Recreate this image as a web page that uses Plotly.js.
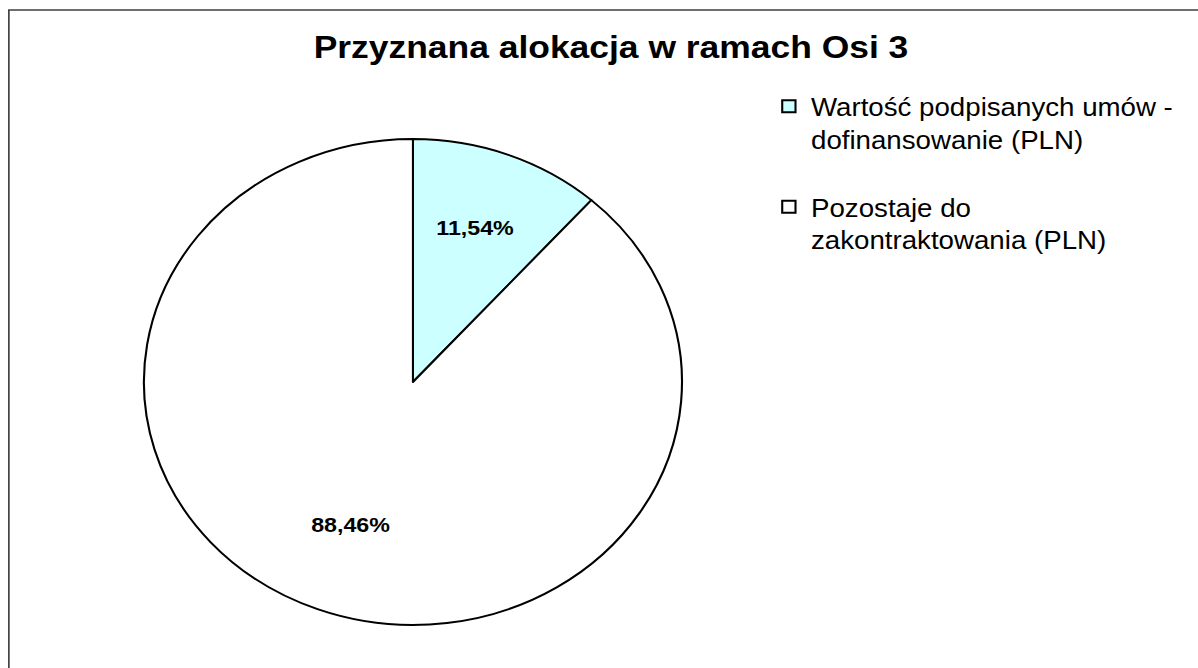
<!DOCTYPE html>
<html>
<head>
<meta charset="utf-8">
<script src="https://cdn.plot.ly/plotly-3.0.1.min.js"></script>
<style>
  html, body { margin: 0; padding: 0; background: #ffffff; overflow: hidden; }
  #chart { width: 1082px; height: 668px; transform: scaleX(1.10721); transform-origin: 0 0; }
</style>
</head>
<body>
<div id="chart"></div>
<script>
// ---- data ----
const chartTitle = 'Przyznana alokacja w ramach Osi 3';
const categories = [
  'Wartość podpisanych umów -<br>dofinansowanie (PLN)<br> ',
  'Pozostaje do<br>zakontraktowania (PLN)'
];
const shares = [11.54, 88.46];          // percent of allocation
const sliceColors = ['#CCFFFF', '#FFFFFF'];

// ---- styling constants ----
const FONT = 'Liberation Sans, Arial, Helvetica, sans-serif';
const pieDomainX = [0.1201, 0.5693];
const pieDomainY = [0.0644, 0.7919];
const LABEL_R = 0.655;

// label positions derived from the data (clockwise from 12 o'clock)
const total = shares.reduce((a, b) => a + b, 0);
const labelAnnotations = [];
let cum = 0;
shares.forEach(v => {
  const mid = (cum + v / 2) / total * 2 * Math.PI;
  labelAnnotations.push({
    xref: 'x', yref: 'y',
    x: LABEL_R * Math.sin(mid),
    y: LABEL_R * Math.cos(mid),
    yshift: 6,
    text: '<b>' + (v / total * 100).toFixed(2).replace('.', ',') + '%</b>',
    showarrow: false,
    xanchor: 'center', yanchor: 'middle',
    font: { family: FONT, size: 21, color: '#000000' }
  });
  cum += v;
});

const pie = {
  type: 'pie',
  labels: categories,
  values: shares,
  sort: false,
  direction: 'clockwise',
  rotation: 0,
  textinfo: 'none',
  hoverinfo: 'skip',
  marker: { colors: sliceColors, line: { color: '#000000', width: 1.9 } },
  domain: { x: pieDomainX, y: pieDomainY }
};

// invisible anchor trace so the x/y axes exist for the label annotations
const axisAnchor = {
  type: 'scatter', mode: 'markers',
  x: [-1, 1], y: [-1, 1],
  marker: { opacity: 0 },
  hoverinfo: 'skip', showlegend: false
};

const layout = {
  width: 1082,
  height: 668,
  margin: { l: 0, r: 0, t: 0, b: 0 },
  paper_bgcolor: '#ffffff',
  plot_bgcolor: 'rgba(0,0,0,0)',
  title: {
    text: '<b>' + chartTitle + '</b>',
    font: { family: FONT, size: 32, color: '#000000' },
    x: 0.51, xref: 'paper', xanchor: 'center',
    y: 0.93, yref: 'container', yanchor: 'middle'
  },
  xaxis: { domain: pieDomainX, range: [-1, 1], visible: false, fixedrange: true },
  yaxis: { domain: pieDomainY, range: [-1, 1], visible: false, fixedrange: true },
  showlegend: true,
  legend: {
    x: 0.64, xanchor: 'left',
    y: 0.875, yanchor: 'top',
    valign: 'top',
    font: { family: FONT, size: 25, color: '#000000' },
    bgcolor: 'rgba(0,0,0,0)',
    borderwidth: 0
  },
  annotations: labelAnnotations,
  shapes: [{
    type: 'rect', xref: 'paper', yref: 'paper',
    x0: 0.0074, x1: 1.05, y0: -0.05, y1: 0.985,
    line: { color: '#404040', width: 1.5 }, fillcolor: 'rgba(0,0,0,0)'
  }]
};

Plotly.newPlot('chart', [axisAnchor, pie], layout, { displayModeBar: false, staticPlot: true });
</script>
</body>
</html>
